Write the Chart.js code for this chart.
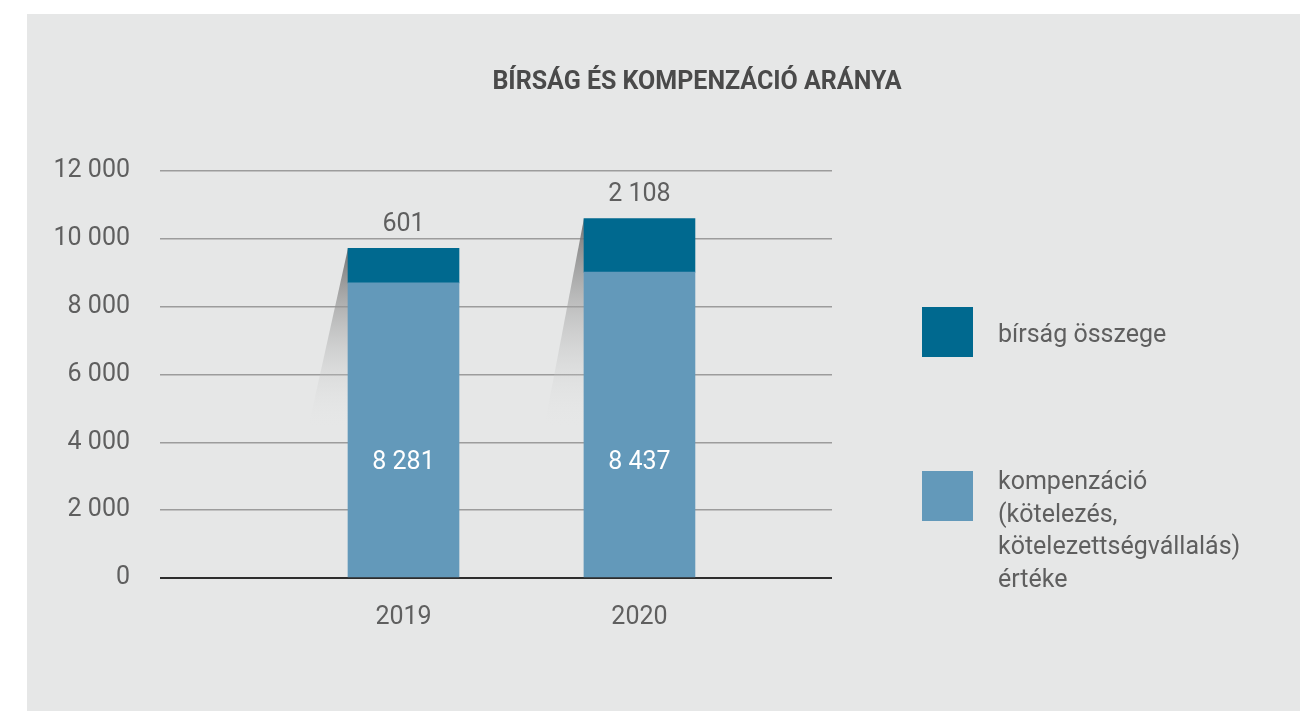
<!DOCTYPE html>
<html>
<head>
<meta charset="utf-8">
<script src="https://cdn.jsdelivr.net/npm/chart.js@4"></script>
<style>
    html, body { margin: 0; padding: 0; background: #fff; overflow: hidden; }
    #wrap { width: 1300px; height: 711px; position: relative; }
</style>
</head>
<body>
<div id="wrap"><canvas id="fineChart" width="1300" height="711"></canvas></div>
<script>
// Data
const years = ['2019', '2020'];
const compensation = [8700, 9020];      // bar heights as drawn
const fine = [1020, 1580];              // bar heights as drawn
const compensationLabels = ['8 281', '8 437'];
const fineLabels = ['601', '2 108'];
const yTicks = [0, 2000, 4000, 6000, 8000, 10000, 12000];

const title = 'BÍRSÁG ÉS KOMPENZÁCIÓ ARÁNYA';
const fineName = ['bírság összege'];
const compName = ['kompenzáció', '(kötelezés,', 'kötelezettségvállalás)', 'értéke'];

const darkBlue = '#00698f';
const lightBlue = '#6399ba';
const textGrey = '#5f5f5f';
const fontFamily = 'Roboto, "Noto Sans", sans-serif';

function fmt(v) {
    return String(v).replace(/\B(?=(\d{3})+(?!\d))/g, ' ');
}

// Panel background + title
const panelPlugin = {
    id: 'panel',
    beforeDraw(chart) {
        const ctx = chart.ctx;
        ctx.save();
        ctx.fillStyle = '#e6e7e7';
        ctx.fillRect(27, 14, chart.width - 27, chart.height - 14);
        ctx.fillStyle = '#4a4a4a';
        ctx.font = 'bold 25px ' + fontFamily;
        ctx.textAlign = 'center';
        ctx.textBaseline = 'middle';
        ctx.fillText(title, 697, 83);
        ctx.restore();
    }
};

// Grey shadow wedges left of each bar
const shadowPlugin = {
    id: 'shadow',
    beforeDatasetsDraw(chart) {
        const ctx = chart.ctx;
        const yScale = chart.scales.y;
        const bars = chart.getDatasetMeta(1).data;
        const bottom = yScale.getPixelForValue(4400);
        ctx.save();
        bars.forEach(bar => {
            const left = bar.x - bar.width / 2;
            const top = bar.y;
            const grad = ctx.createLinearGradient(0, top, 0, bottom);
            grad.addColorStop(0, 'rgba(110,110,110,0.95)');
            grad.addColorStop(1, 'rgba(230,231,231,0)');
            ctx.fillStyle = grad;
            ctx.beginPath();
            ctx.moveTo(left, top);
            ctx.lineTo(left - 40, bottom);
            ctx.lineTo(left, bottom);
            ctx.closePath();
            ctx.fill();
        });
        ctx.restore();
    }
};

// Value labels
const labelPlugin = {
    id: 'valueLabels',
    afterDatasetsDraw(chart) {
        const ctx = chart.ctx;
        const yScale = chart.scales.y;
        const bars = chart.getDatasetMeta(1).data;
        ctx.save();
        ctx.font = '25px ' + fontFamily;
        ctx.textAlign = 'center';
        ctx.textBaseline = 'middle';
        bars.forEach((bar, i) => {
            ctx.fillStyle = textGrey;
            ctx.fillText(fineLabels[i], bar.x, bar.y - 24);
            ctx.fillStyle = '#ffffff';
            ctx.fillText(compensationLabels[i], bar.x, yScale.getPixelForValue(3400));
        });
        ctx.restore();
    }
};

// Legend on the right
const legendPlugin = {
    id: 'sideLegend',
    afterDraw(chart) {
        const ctx = chart.ctx;
        const items = [
            { color: darkBlue, lines: fineName, top: 307 },
            { color: lightBlue, lines: compName, top: 471 }
        ];
        ctx.save();
        ctx.font = '25px ' + fontFamily;
        ctx.textAlign = 'left';
        ctx.textBaseline = 'middle';
        items.forEach(item => {
            ctx.fillStyle = item.color;
            ctx.fillRect(922, item.top, 51, 50);
            ctx.fillStyle = textGrey;
            const firstY = item.lines.length === 1 ? item.top + 29 : item.top + 12;
            item.lines.forEach((line, k) => {
                ctx.fillText(line, 998, firstY + k * 32.5);
            });
        });
        ctx.restore();
    }
};

const ctx = document.getElementById('fineChart').getContext('2d');
new Chart(ctx, {
    type: 'bar',
    data: {
        datasets: [{
            label: compName.join(' '),
            data: years.map((yr, i) => ({ x: Number(yr), y: compensation[i] })),
            backgroundColor: lightBlue,
            barThickness: 111
        }, {
            label: fineName.join(' '),
            data: years.map((yr, i) => ({ x: Number(yr), y: fine[i] })),
            backgroundColor: darkBlue,
            barThickness: 111
        }]
    },
    options: {
        responsive: false,
        animation: false,
        devicePixelRatio: 1,
        layout: { padding: { left: 0, right: 468, top: 171, bottom: 0 } },
        plugins: {
            legend: { display: false },
            tooltip: { enabled: false }
        },
        scales: {
            x: {
                type: 'linear',
                stacked: true,
                offset: false,
                min: 2017.968,
                max: 2020.816,
                afterBuildTicks(scale) {
                    scale.ticks = years.map(yr => ({ value: Number(yr) }));
                },
                afterFit(scale) { scale.height = 133; },
                grid: { display: false },
                border: { display: false },
                ticks: {
                    callback: v => String(v),
                    color: textGrey,
                    font: { family: fontFamily, size: 25 },
                    padding: 17
                }
            },
            y: {
                stacked: true,
                min: 0,
                max: 12000,
                afterBuildTicks(scale) {
                    scale.ticks = yTicks.map(v => ({ value: v }));
                },
                afterFit(scale) { scale.width = 160; },
                border: { display: false },
                grid: {
                    drawTicks: false,
                    color: c => c.tick && c.tick.value === 0 ? '#2d2d2d' : '#9c9c9c',
                    lineWidth: c => c.tick && c.tick.value === 0 ? 2 : 1.5
                },
                ticks: {
                    callback: v => fmt(v),
                    color: textGrey,
                    font: { family: fontFamily, size: 25 },
                    padding: 30
                }
            }
        }
    },
    plugins: [panelPlugin, shadowPlugin, labelPlugin, legendPlugin]
});
</script>
</body>
</html>
